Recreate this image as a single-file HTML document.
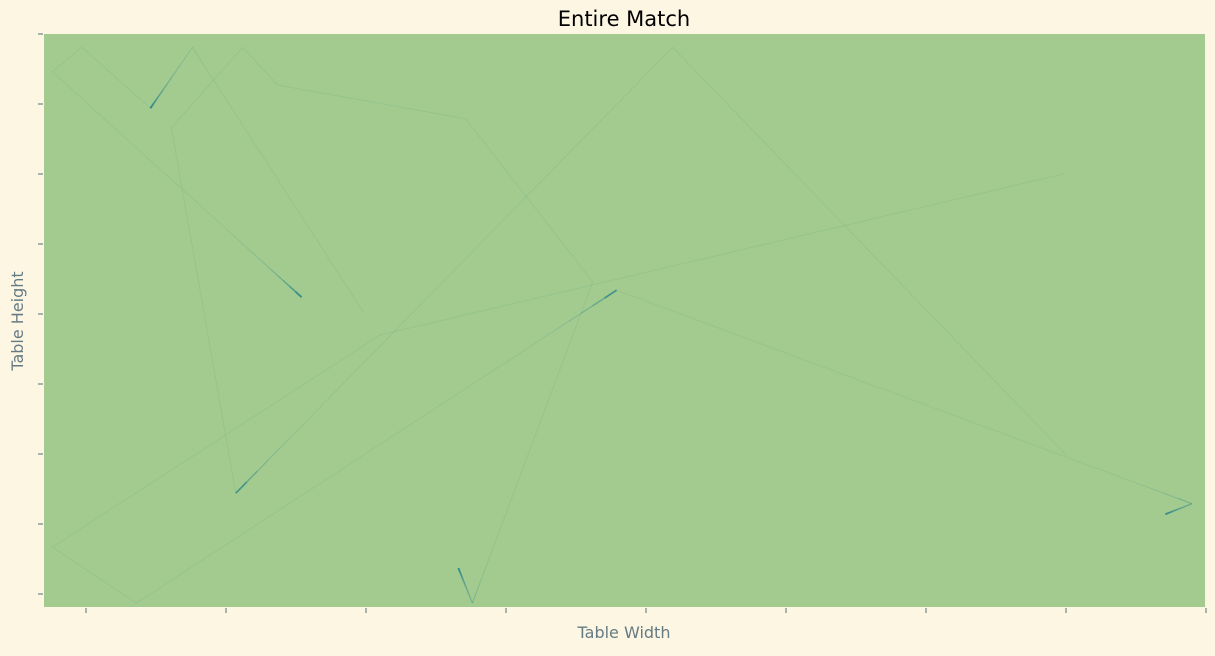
<!DOCTYPE html>
<html><head><meta charset="utf-8"><style>
body{margin:0;background:#fdf6e3;width:1215px;height:651px;overflow:hidden;font-family:"Liberation Sans","DejaVu Sans",sans-serif}
</style></head><body>
<svg id="chart" width="1215" height="651" xmlns="http://www.w3.org/2000/svg">
<rect width="1215" height="651" fill="#fdf6e3"/>
<text x="624" y="26" text-anchor="middle" font-size="21" fill="#000" font-family="DejaVu Sans, sans-serif">Entire Match</text>
<rect x="44" y="34" width="1161" height="573" fill="#a3cb8f"/>
<g id="ticks"></g>
<g id="marks"></g>
<text x="624" y="638" text-anchor="middle" font-size="16" fill="#657b83" font-family="DejaVu Sans, sans-serif">Table Width</text>
<text transform="translate(23,321) rotate(-90)" text-anchor="middle" font-size="16" fill="#657b83" font-family="DejaVu Sans, sans-serif">Table Height</text>
</svg>
<script>
const xTicks=[0,1,2,3,4,5,6,7,8];
const yTicks=[0,1,2,3,4,5,6,7,8];
const traj1=[[0.46,6.94],[-0.03,7.81],[-0.24,7.46],[1.54,4.24]];
const traj2=[[1.98,4.03],[0.76,7.81],[0.46,6.94]];
const traj3=[[6.98,6.0],[2.10,3.70],[-0.24,0.67],[0.36,-0.13],[3.79,4.34]];
const traj4=[[7.0,1.99],[4.19,7.81],[1.07,1.44]];
const traj5=[[1.07,1.44],[0.61,6.66],[1.12,7.81],[1.37,7.27],[2.71,6.79],[3.62,4.46],[2.76,-0.13],[2.66,0.37]];
const traj6=[[3.79,4.34],[7.9,1.29],[7.71,1.14]];
const trajectories=[traj1,traj2,traj3,traj4,traj5,traj6];
const X=v=>86+v*140, Y=v=>594-v*70;
const NS="http://www.w3.org/2000/svg";
const tg=document.getElementById('ticks');
xTicks.forEach(t=>{const l=document.createElementNS(NS,'line');


l.setAttribute('x1',X(t));l.setAttribute('x2',X(t));l.setAttribute('y1',608);l.setAttribute('y2',613);l.setAttribute('stroke','#586e75');l.setAttribute('stroke-width','1');tg.appendChild(l);});
yTicks.forEach(t=>{const l=document.createElementNS(NS,'line');


l.setAttribute('x1',38);l.setAttribute('x2',43);l.setAttribute('y1',Y(t));l.setAttribute('y2',Y(t));l.setAttribute('stroke','#586e75');l.setAttribute('stroke-width','1');tg.appendChild(l);});
const mg=document.getElementById('marks');
trajectories.forEach((tr,ti)=>{
  const g=document.createElementNS(NS,'g');
  
  
  let total=0;const lens=[];
  for(let i=1;i<tr.length;i++){const d=Math.hypot(X(tr[i][0])-X(tr[i-1][0]),Y(tr[i][1])-Y(tr[i-1][1]));lens.push(d);total+=d;}
  let acc=0;
  for(let i=1;i<tr.length;i++){
    const N=40;
    for(let k=0;k<N;k++){
      const a=k/N,b=(k+1)/N;
      const x1=X(tr[i-1][0]+(tr[i][0]-tr[i-1][0])*a),y1=Y(tr[i-1][1]+(tr[i][1]-tr[i-1][1])*a);
      const x2=X(tr[i-1][0]+(tr[i][0]-tr[i-1][0])*b),y2=Y(tr[i-1][1]+(tr[i][1]-tr[i-1][1])*b);
      const rem=total-(acc+lens[i-1]*(a+b)/2);
      const e=Math.exp(-rem/28);
      const l=document.createElementNS(NS,'line');
      l.setAttribute('x1',x1);l.setAttribute('y1',y1);l.setAttribute('x2',x2);l.setAttribute('y2',y2);
      l.setAttribute('stroke','#1f7f8c');
      l.setAttribute('stroke-width',0.9+1.0*e);
      l.setAttribute('stroke-opacity',0.1+0.85*e);
      g.appendChild(l);
    }
    acc+=lens[i-1];
  }
  mg.appendChild(g);
});
</script>
</body></html>
